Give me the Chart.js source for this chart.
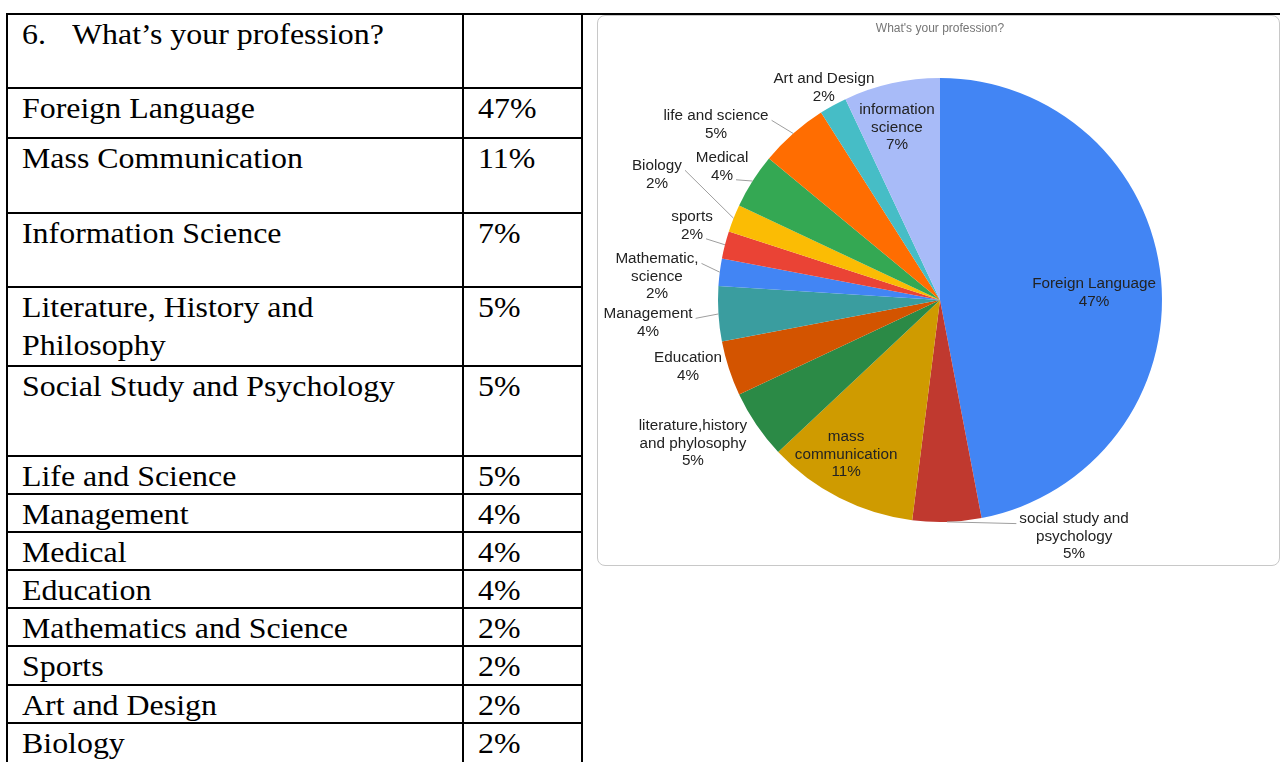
<!DOCTYPE html>
<html>
<head>
<meta charset="utf-8">
<title>What's your profession?</title>
<script src="https://cdn.jsdelivr.net/npm/chart.js@4.4.0/dist/chart.umd.min.js"></script>
<style>
    html, body { margin: 0; padding: 0; background: #fff; width: 1280px; height: 762px; overflow: hidden; }
    #page { position: relative; width: 1280px; height: 762px; }
    .hl { position: absolute; height: 2px; background: #000; }
    .vl { position: absolute; width: 2px; background: #000; top: 13px; height: 749px; }
    .cell {
        position: absolute; color: #000; white-space: pre;
        font-family: "Liberation Serif", "Times New Roman", serif; font-size: 29px; line-height: 38px;
        transform: scaleX(1.1); transform-origin: 0 0;
    }
    #chartBox {
        position: absolute; left: 597px; top: 15px; width: 681px; height: 549px;
        border: 1px solid #c8c8c8; border-radius: 8px; background: #fff; overflow: hidden;
    }
    #chartBox canvas { display: block; }
</style>
</head>
<body>
<div id="page">
    <div id="chartBox"><canvas id="pieChart" width="681" height="549"></canvas></div>
</div>
<script>
// slices, clockwise from 12 o'clock
var categories = [
    ["Foreign Language"],
    ["social study and", "psychology"],
    ["mass", "communication"],
    ["literature,history", "and phylosophy"],
    ["Education"],
    ["Management"],
    ["Mathematic,", "science"],
    ["sports"],
    ["Biology"],
    ["Medical"],
    ["life and science"],
    ["Art and Design"],
    ["information", "science"]
];
var shares = [47, 5, 11, 5, 4, 4, 2, 2, 2, 4, 5, 2, 7];
var sliceColors = ["#4285F4", "#C0392F", "#CF9B00", "#2B8A46", "#D35400", "#3A9D9F", "#4285F4",
    "#EA4335", "#FBBC04", "#34A853", "#FF6D01", "#46BDC6", "#A8BBF8"];

// the table on the left
var tableNames = ["Foreign Language", "Mass Communication", "Information Science", "Literature, History and\nPhilosophy",
    "Social Study and Psychology", "Life and Science", "Management", "Medical", "Education",
    "Mathematics and Science", "Sports", "Art and Design", "Biology"];
var tablePercents = ["47%", "11%", "7%", "5%", "5%", "5%", "4%", "4%", "4%", "2%", "2%", "2%", "2%"];

// label block centres, in pie radii from the centre; leader = [line, side]
var labelSpots = [[0.694, -0.032], [0.604, 1.068], [-0.423, 0.698], [-1.113, 0.649], [-1.135, 0.302],
    [-1.315, 0.104], [-1.275, -0.104], [-1.117, -0.333], [-1.275, -0.563], [-0.982, -0.599],
    [-1.009, -0.788], [-0.523, -0.955], [-0.194, -0.775]];
var leaders = [null, [0, 'left'], null, null, null, [0, 'right'], [0, 'right'], [1, 'right'],
    [0, 'right'], [1, 'right'], [0, 'right'], null, null];

var rowLines = [13, 87, 137, 212, 286, 365, 455, 493, 531, 569, 607, 645, 684, 722];
var colLines = [6, 462, 581];
var SX = 1.09;

function buildTable() {
    var page = document.getElementById('page');
    rowLines.forEach(function (y, i) {
        var d = document.createElement('div');
        d.className = 'hl';
        d.style.top = y + 'px';
        d.style.left = '6px';
        d.style.width = (i === 0 ? 1274 : 577) + 'px';
        page.appendChild(d);
    });
    colLines.forEach(function (x) {
        var d = document.createElement('div');
        d.className = 'vl';
        d.style.left = x + 'px';
        page.appendChild(d);
    });
    function addCell(text, x, y) {
        var s = document.createElement('div');
        s.className = 'cell';
        s.textContent = text;
        s.style.left = x + 'px';
        s.style.top = y + 'px';
        page.appendChild(s);
    }
    addCell("6.", 22, rowLines[0] + 2);
    addCell("What\u2019s your profession?", 72, rowLines[0] + 2);
    tableNames.forEach(function (name, i) {
        addCell(name, 22, rowLines[i + 1] + 2);
        addCell(tablePercents[i], 478, rowLines[i + 1] + 2);
    });
}

var sliceLabels = {
    id: 'sliceLabels',
    afterDatasetsDraw: function (chart) {
        var ctx = chart.ctx;
        var meta = chart.getDatasetMeta(0);
        var data = chart.data.datasets[0].data;
        var total = data.reduce(function (a, b) { return a + b; }, 0);
        var lh = 17.5;
        ctx.save();
        ctx.font = '14px "Liberation Sans", Arial, sans-serif';
        ctx.textAlign = 'center';
        ctx.textBaseline = 'middle';
        meta.data.forEach(function (arc, i) {
            var p = arc.getProps(['x', 'y', 'startAngle', 'endAngle', 'outerRadius'], true);
            var lines = chart.data.labels[i].concat(Math.round(data[i] / total * 100) + '%');
            var cx = p.x + labelSpots[i][0] * p.outerRadius;
            var cy = p.y + labelSpots[i][1] * p.outerRadius;
            var top = cy - (lines.length - 1) * lh / 2;
            if (leaders[i]) {
                var k = leaders[i][0];
                var w = ctx.measureText(lines[k]).width * SX;
                var mid = (p.startAngle + p.endAngle) / 2;
                var ax = p.x + Math.cos(mid) * p.outerRadius;
                var ay = p.y + Math.sin(mid) * p.outerRadius;
                var ex = leaders[i][1] === 'right' ? cx + w / 2 + 3 : cx - w / 2 - 3;
                var ey = top + k * lh + 4;
                ctx.strokeStyle = '#9e9e9e';
                ctx.lineWidth = 1;
                ctx.beginPath();
                ctx.moveTo(ex, ey);
                ctx.lineTo(ax, ay);
                ctx.stroke();
            }
            ctx.fillStyle = '#222';
            lines.forEach(function (t, j) {
                ctx.save();
                ctx.translate(cx, top + j * lh);
                ctx.scale(SX, 1);
                ctx.fillText(t, 0, 0);
                ctx.restore();
            });
        });
        ctx.restore();
    }
};

buildTable();

new Chart(document.getElementById('pieChart'), {
    type: 'pie',
    data: {
        labels: categories,
        datasets: [{
            data: shares,
            backgroundColor: sliceColors,
            borderWidth: 0,
            hoverOffset: 0,
            offset: 0
        }]
    },
    options: {
        responsive: false,
        animation: false,
        layout: { padding: { top: 0, left: 120, right: 117, bottom: 43 } },
        plugins: {
            legend: { display: false },
            tooltip: { enabled: false },
            title: {
                display: true,
                text: "What's your profession?",
                color: '#757575',
                font: { family: '"Liberation Sans", Arial, sans-serif', size: 12, weight: 'normal' },
                padding: { top: 5, bottom: 42.6 }
            }
        }
    },
    plugins: [sliceLabels]
});
</script>
</body>
</html>
